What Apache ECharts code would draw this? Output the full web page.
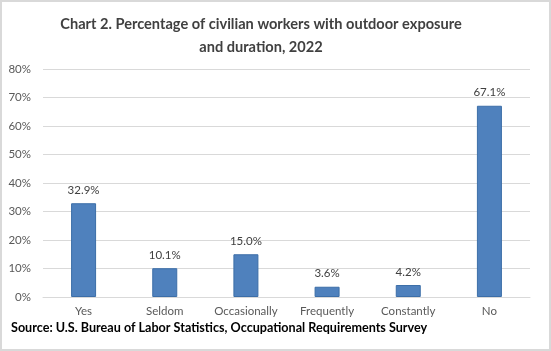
<!DOCTYPE html>
<html>
<head>
<meta charset="utf-8">
<script src="https://cdn.jsdelivr.net/npm/echarts@6/dist/echarts.min.js"></script>
<style>
  html, body { margin: 0; padding: 0; background: #fff; }
  #chart { width: 551px; height: 351px; box-sizing: border-box; border: 2px solid #d9d9d9; }
</style>
</head>
<body>
<div id="chart"></div>
<script>
const categories = ['Yes', 'Seldom', 'Occasionally', 'Frequently', 'Constantly', 'No']
const percentages = [32.9, 10.1, 15.0, 3.6, 4.2, 67.1]
const yTicks = [0, 10, 20, 30, 40, 50, 60, 70, 80]

const chart = echarts.init(document.getElementById('chart'))
chart.setOption({
  animation: false,
  textStyle: { fontFamily: 'Lato' },
  graphic: [{
    // title sits a little left of centre in the original
    type: 'text',
    x: 259,
    y: 11,
    style: {
      text: 'Chart 2. Percentage of civilian workers with outdoor exposure\nand duration, 2022',
      align: 'center',
      fontSize: 14.6,
      fontWeight: 'bold',
      lineHeight: 23,
      fill: '#404040',
      fontFamily: 'Lato'
    }
  }, {
    type: 'text',
    left: 9,
    top: 319,
    style: {
      text: 'Source: U.S. Bureau of Labor Statistics, Occupational Requirements Survey',
      fontSize: 12.6,
      fontWeight: 'bold',
      fill: '#000',
      fontFamily: 'Lato'
    }
  }],
  grid: { left: 41, right: 19, top: 67, bottom: 52, containLabel: false },
  xAxis: {
    type: 'category',
    data: categories,
    axisLine: { lineStyle: { color: '#d9d9d9' } },
    axisTick: { show: false },
    axisLabel: { color: '#595959', fontSize: 11.5, margin: 8, interval: 0 }
  },
  yAxis: {
    type: 'value',
    min: yTicks[0],
    max: yTicks[yTicks.length - 1],
    interval: 10,
    axisLine: { show: false },
    axisTick: { show: false },
    axisLabel: { color: '#595959', fontSize: 11.5, formatter: '{value}%', margin: 12 },
    splitLine: { lineStyle: { color: '#d9d9d9' } }
  },
  series: [{
    type: 'bar',
    data: percentages,
    barWidth: 25,
    itemStyle: { color: '#4f81bd', borderColor: '#3c6ea8', borderWidth: 1 },
    label: {
      show: true,
      position: 'top',
      distance: 7,
      color: '#404040',
      fontSize: 11.5,
      formatter: p => p.value.toFixed(1) + '%'
    }
  }]
})
</script>
</body>
</html>
